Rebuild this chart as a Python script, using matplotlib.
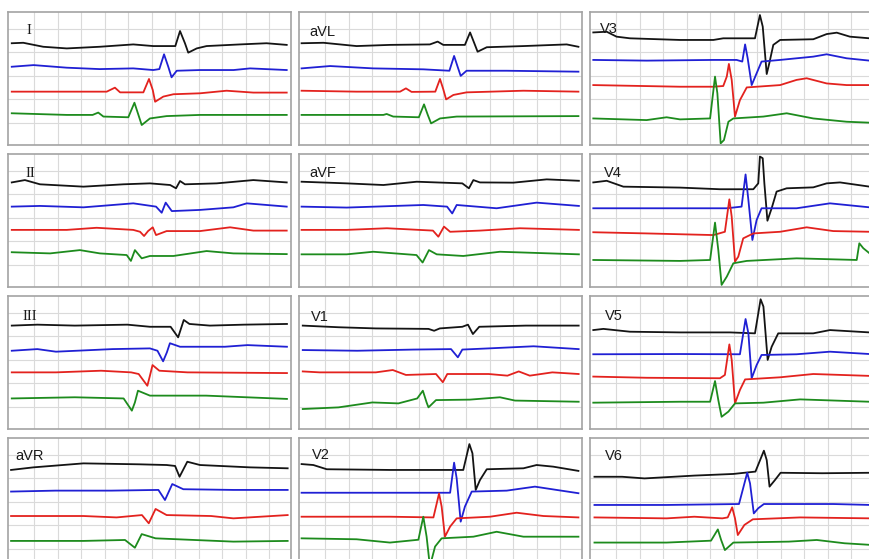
import matplotlib
matplotlib.use('Agg')
import matplotlib.pyplot as plt

W, H = 869, 559

# ---------------- data (time and amplitude in grid divisions) ----------------
lead_names = ['I', 'aVL', 'V3', 'II', 'aVF', 'V4', 'III', 'V1', 'V5', 'aVR', 'V2', 'V6']

lead_I = {
    'black': ([0.16, 0.65, 1.5, 2.5, 3.9, 5.33, 6.18, 7.12, 7.32, 7.53, 7.67, 8.03, 8.45, 9.87, 11.0, 11.86],
              [4.33, 4.35, 4.18, 4.11, 4.18, 4.28, 4.21, 4.21, 4.85, 4.33, 3.93, 4.11, 4.21, 4.28, 4.33, 4.26]),
    'blue': ([0.16, 1.09, 2.5, 3.9, 5.33, 6.18, 6.44, 6.64, 6.82, 6.96, 7.18, 8.17, 9.6, 10.3, 11.86],
             [3.33, 3.4, 3.29, 3.23, 3.26, 3.19, 3.23, 3.86, 3.33, 2.88, 3.16, 3.19, 3.19, 3.26, 3.19]),
    'red': ([0.16, 2.5, 4.2, 4.55, 4.77, 5.76, 6.0, 6.16, 6.26, 6.61, 7.04, 8.17, 9.3, 10.44, 11.86],
            [2.27, 2.27, 2.27, 2.44, 2.24, 2.24, 2.81, 2.34, 1.84, 2.06, 2.16, 2.2, 2.31, 2.23, 2.23]),
    'green': ([0.16, 2.5, 3.6, 3.84, 4.06, 5.12, 5.38, 5.55, 5.69, 6.04, 6.75, 8.17, 9.6, 11.86],
              [1.35, 1.28, 1.28, 1.38, 1.21, 1.18, 1.8, 1.28, 0.85, 1.13, 1.23, 1.28, 1.28, 1.28]),
}

lead_aVL = {
    'black': ([0.11, 1.04, 2.45, 3.87, 5.57, 5.9, 6.14, 7.06, 7.28, 7.46, 7.6, 7.99, 9.55, 11.39, 11.89],
              [4.33, 4.35, 4.21, 4.26, 4.28, 4.4, 4.26, 4.26, 4.79, 4.33, 3.97, 4.16, 4.21, 4.28, 4.18]),
    'blue': ([0.11, 1.32, 3.16, 5.29, 6.4, 6.6, 6.75, 6.88, 7.13, 8.84, 11.89],
             [3.26, 3.36, 3.26, 3.22, 3.16, 3.79, 3.33, 2.94, 3.16, 3.16, 3.12]),
    'red': ([0.11, 2.45, 4.3, 4.55, 4.79, 5.8, 6.0, 6.14, 6.26, 6.57, 7.13, 9.55, 11.89],
            [2.31, 2.27, 2.27, 2.41, 2.26, 2.27, 2.81, 2.37, 1.94, 2.13, 2.24, 2.31, 2.27]),
    'green': ([0.11, 3.59, 3.73, 4.01, 5.1, 5.32, 5.48, 5.62, 6.0, 6.71, 11.89],
              [1.28, 1.28, 1.32, 1.21, 1.18, 1.73, 1.28, 0.92, 1.13, 1.21, 1.23]),
}

lead_V3 = {
    'black': ([0.14, 0.71, 1.13, 1.7, 3.83, 5.25, 5.67, 7.02, 7.23, 7.35, 7.52, 7.63, 7.8, 8.09, 9.5, 10.07, 10.5, 11.06, 11.9],
              [4.79, 4.82, 4.61, 4.54, 4.47, 4.47, 4.54, 4.54, 5.53, 5.04, 3.02, 3.48, 4.26, 4.47, 4.5, 4.72, 4.78, 4.61, 4.54]),
    'blue': ([0.14, 2.41, 5.25, 6.24, 6.48, 6.6, 6.71, 6.88, 7.09, 7.3, 8.09, 9.5, 10.07, 10.92, 11.9],
             [3.62, 3.59, 3.62, 3.62, 3.55, 4.28, 3.69, 2.55, 3.05, 3.55, 3.62, 3.76, 3.86, 3.69, 3.59]),
    'red': ([0.14, 3.83, 5.25, 5.67, 5.82, 5.91, 6.03, 6.17, 6.38, 6.67, 8.09, 8.79, 9.22, 10.07, 10.92, 11.9],
            [2.55, 2.48, 2.48, 2.51, 2.91, 3.45, 2.77, 1.21, 1.91, 2.45, 2.55, 2.77, 2.84, 2.62, 2.55, 2.55]),
    'green': ([0.14, 2.41, 3.26, 3.83, 5.11, 5.32, 5.42, 5.56, 5.7, 5.89, 6.1, 7.38, 8.37, 9.5, 10.92, 11.9],
              [1.13, 1.06, 1.18, 1.09, 1.13, 2.91, 2.2, 0.07, 0.21, 0.99, 1.13, 1.21, 1.35, 1.13, 0.99, 0.95]),
}

lead_II = {
    'black': ([0.16, 0.72, 1.36, 3.21, 4.91, 6.04, 6.9, 7.15, 7.32, 7.53, 8.88, 10.44, 11.86],
              [4.45, 4.55, 4.37, 4.27, 4.37, 4.41, 4.34, 4.2, 4.51, 4.37, 4.41, 4.55, 4.45]),
    'blue': ([0.16, 1.36, 3.21, 5.33, 6.3, 6.54, 6.71, 6.97, 8.17, 9.59, 10.16, 11.86],
             [3.42, 3.45, 3.39, 3.56, 3.42, 3.16, 3.59, 3.23, 3.28, 3.39, 3.56, 3.42]),
    'red': ([0.16, 2.5, 3.77, 5.33, 5.62, 5.79, 5.96, 6.16, 6.3, 6.75, 8.17, 9.45, 10.44, 11.86],
            [2.43, 2.43, 2.52, 2.43, 2.35, 2.17, 2.38, 2.54, 2.21, 2.38, 2.38, 2.54, 2.4, 2.4]),
    'green': ([0.16, 1.79, 3.06, 3.91, 5.05, 5.23, 5.4, 5.69, 6.04, 7.04, 8.45, 9.59, 11.86],
              [1.48, 1.43, 1.57, 1.43, 1.36, 1.11, 1.57, 1.22, 1.32, 1.32, 1.53, 1.43, 1.4]),
}

lead_aVF = {
    'black': ([0.11, 2.03, 3.59, 5.01, 6.95, 7.23, 7.42, 7.7, 9.12, 10.54, 11.91],
              [4.48, 4.41, 4.34, 4.48, 4.41, 4.2, 4.55, 4.45, 4.44, 4.58, 4.52]),
    'blue': ([0.11, 2.03, 5.29, 6.3, 6.52, 6.71, 8.41, 10.11, 11.91],
             [3.42, 3.38, 3.49, 3.42, 3.13, 3.49, 3.35, 3.59, 3.45]),
    'red': ([0.11, 2.03, 3.74, 5.7, 5.93, 6.17, 6.43, 7.7, 9.4, 11.91],
            [2.43, 2.43, 2.5, 2.4, 2.14, 2.57, 2.35, 2.4, 2.5, 2.43]),
    'green': ([0.11, 2.03, 3.16, 5.0, 5.26, 5.53, 5.86, 6.99, 8.55, 11.91],
              [1.39, 1.39, 1.5, 1.36, 1.04, 1.57, 1.39, 1.32, 1.5, 1.39]),
}

lead_V4 = {
    'black': ([0.14, 0.71, 1.42, 3.83, 5.53, 6.95, 7.16, 7.23, 7.35, 7.42, 7.55, 7.73, 7.94, 8.37, 9.5, 10.07, 10.64, 11.9],
              [4.45, 4.52, 4.27, 4.23, 4.16, 4.16, 4.41, 5.55, 5.48, 4.41, 2.82, 3.35, 4.06, 4.2, 4.24, 4.41, 4.45, 4.27]),
    'blue': ([0.14, 2.41, 5.82, 6.45, 6.62, 6.74, 6.91, 7.09, 7.3, 8.79, 10.21, 11.9],
             [3.35, 3.35, 3.35, 3.42, 4.79, 3.7, 2.0, 2.85, 3.35, 3.35, 3.56, 3.39]),
    'red': ([0.14, 2.41, 5.25, 5.74, 5.93, 6.03, 6.17, 6.31, 6.52, 6.95, 8.09, 9.22, 10.35, 11.9],
            [2.33, 2.28, 2.21, 2.35, 3.73, 2.99, 1.08, 1.29, 2.07, 2.28, 2.35, 2.54, 2.38, 2.35]),
    'green': ([0.14, 3.83, 5.11, 5.32, 5.46, 5.6, 5.82, 6.1, 6.67, 8.79, 11.35, 11.46, 11.63, 11.9],
              [1.15, 1.11, 1.15, 2.74, 1.57, 0.09, 0.44, 1.01, 1.11, 1.22, 1.15, 1.86, 1.65, 1.43]),
}

lead_III = {
    'black': ([0.16, 1.25, 2.84, 5.08, 6.04, 6.92, 7.24, 7.48, 7.72, 8.59, 10.03, 11.87],
              [4.4, 4.44, 4.4, 4.44, 4.35, 4.35, 3.9, 4.64, 4.47, 4.4, 4.44, 4.47]),
    'blue': ([0.16, 1.25, 2.04, 4.44, 6.04, 6.36, 6.6, 6.76, 6.89, 7.32, 9.23, 10.19, 11.87],
             [3.33, 3.4, 3.29, 3.4, 3.43, 3.33, 2.88, 3.26, 3.65, 3.5, 3.5, 3.57, 3.5]),
    'red': ([0.16, 2.04, 3.96, 5.24, 5.56, 5.93, 6.04, 6.15, 6.44, 7.64, 11.87],
            [2.41, 2.41, 2.48, 2.41, 2.34, 1.84, 2.27, 2.72, 2.48, 2.41, 2.38]),
    'green': ([0.16, 2.84, 4.92, 5.27, 5.4, 5.53, 6.04, 8.43, 11.87],
              [1.3, 1.35, 1.3, 0.78, 1.13, 1.63, 1.42, 1.42, 1.28]),
}

lead_V1 = {
    'black': ([0.16, 1.68, 3.27, 5.51, 5.75, 5.99, 6.95, 7.19, 7.4, 7.67, 9.66, 11.9],
              [4.4, 4.33, 4.28, 4.26, 4.18, 4.28, 4.35, 4.44, 4.04, 4.35, 4.4, 4.4]),
    'blue': ([0.16, 2.48, 4.87, 6.47, 6.76, 6.95, 8.07, 9.98, 11.9],
             [3.36, 3.33, 3.38, 3.4, 3.05, 3.38, 3.43, 3.52, 3.4]),
    'red': ([0.16, 0.88, 3.27, 3.99, 4.55, 5.83, 6.12, 6.31, 8.07, 8.87, 9.35, 9.82, 10.78, 11.9],
            [2.45, 2.41, 2.41, 2.51, 2.3, 2.34, 1.99, 2.34, 2.34, 2.27, 2.45, 2.27, 2.41, 2.34]),
    'green': ([0.16, 1.68, 3.12, 4.23, 5.03, 5.27, 5.43, 5.51, 5.83, 7.27, 8.55, 9.19, 11.9],
              [0.85, 0.92, 1.13, 1.09, 1.3, 1.63, 1.13, 0.92, 1.23, 1.25, 1.35, 1.21, 1.16]),
}

lead_V5 = {
    'black': ([0.14, 0.57, 1.7, 3.83, 5.96, 7.02, 7.26, 7.38, 7.56, 7.73, 8.01, 9.5, 10.21, 11.9],
              [4.21, 4.26, 4.14, 4.11, 4.11, 4.07, 5.52, 5.21, 2.94, 3.5, 4.07, 4.07, 4.21, 4.11]),
    'blue': ([0.14, 3.83, 6.38, 6.62, 6.74, 6.88, 7.09, 7.3, 8.79, 10.21, 11.9],
             [3.18, 3.19, 3.18, 4.68, 4.07, 2.16, 2.72, 3.15, 3.18, 3.29, 3.19]),
    'red': ([0.14, 2.41, 5.53, 5.74, 5.93, 6.03, 6.17, 6.38, 6.6, 8.09, 9.5, 11.9],
            [2.23, 2.18, 2.16, 2.3, 3.6, 2.94, 1.09, 1.66, 2.11, 2.2, 2.34, 2.26]),
    'green': ([0.14, 3.83, 5.11, 5.32, 5.46, 5.6, 5.89, 6.17, 7.38, 8.94, 11.9],
              [1.12, 1.16, 1.16, 2.04, 1.23, 0.52, 0.74, 1.09, 1.12, 1.26, 1.16]),
}

lead_aVR = {
    'black': ([0.13, 1.08, 3.21, 5.57, 6.75, 7.11, 7.3, 7.63, 8.17, 10.3, 11.9],
              [4.3, 4.41, 4.58, 4.54, 4.51, 4.47, 4.01, 4.65, 4.51, 4.41, 4.37]),
    'blue': ([0.13, 2.02, 4.39, 6.4, 6.68, 6.99, 7.46, 9.59, 11.9],
             [3.38, 3.42, 3.42, 3.45, 3.02, 3.7, 3.48, 3.45, 3.45]),
    'red': ([0.13, 3.21, 4.62, 5.7, 5.99, 6.28, 6.75, 8.64, 9.59, 11.9],
            [2.34, 2.34, 2.28, 2.38, 2.03, 2.64, 2.38, 2.34, 2.24, 2.38]),
    'green': ([0.13, 3.21, 4.98, 5.4, 5.69, 6.28, 7.93, 9.59, 11.9],
              [1.28, 1.28, 1.32, 0.99, 1.57, 1.39, 1.32, 1.25, 1.28]),
}

lead_V2 = {
    'black': ([0.11, 0.61, 1.18, 3.87, 6.99, 7.25, 7.38, 7.52, 7.7, 7.99, 9.55, 10.11, 10.82, 11.89],
              [4.55, 4.51, 4.33, 4.3, 4.3, 5.4, 5.01, 3.45, 3.87, 4.33, 4.37, 4.51, 4.44, 4.26]),
    'blue': ([0.11, 3.87, 6.43, 6.6, 6.71, 6.88, 7.06, 7.35, 8.84, 10.04, 10.96, 11.89],
             [3.33, 3.33, 3.33, 4.61, 3.94, 2.1, 2.74, 3.38, 3.42, 3.59, 3.45, 3.31]),
    'red': ([0.11, 3.87, 5.72, 5.96, 6.07, 6.21, 6.43, 6.71, 8.13, 9.26, 10.4, 11.89],
            [2.31, 2.31, 2.28, 3.3, 2.74, 1.46, 1.89, 2.24, 2.31, 2.48, 2.34, 2.28]),
    'green': ([0.11, 2.45, 3.87, 5.08, 5.29, 5.43, 5.57, 5.79, 6.07, 7.42, 8.41, 9.55, 11.89],
              [1.39, 1.35, 1.21, 1.33, 2.31, 1.46, 0.2, 1.04, 1.39, 1.46, 1.67, 1.46, 1.46]),
}

lead_V6 = {
    'black': ([0.19, 1.37, 2.32, 4.44, 6.1, 7.04, 7.4, 7.52, 7.64, 7.87, 8.11, 9.88, 11.96],
              [4.01, 4.01, 3.94, 4.06, 4.13, 4.23, 5.12, 4.72, 3.59, 3.87, 4.18, 4.16, 4.18]),
    'blue': ([0.19, 3.26, 6.34, 6.69, 6.81, 6.97, 7.16, 7.4, 10.35, 11.96],
             [2.81, 2.81, 2.85, 4.18, 3.73, 2.45, 2.67, 2.85, 2.85, 2.81]),
    'red': ([0.19, 3.26, 4.44, 5.63, 5.86, 6.05, 6.17, 6.29, 6.57, 6.93, 8.94, 11.96],
            [2.28, 2.24, 2.31, 2.24, 2.28, 2.71, 2.24, 1.53, 1.96, 2.2, 2.28, 2.24]),
    'green': ([0.19, 3.26, 5.15, 5.44, 5.58, 5.74, 6.1, 8.46, 9.65, 10.83, 11.96],
              [1.21, 1.21, 1.29, 1.77, 1.32, 0.89, 1.21, 1.25, 1.32, 1.18, 1.11]),
}

lead_data = [lead_I, lead_aVL, lead_V3, lead_II, lead_aVF, lead_V4,
             lead_III, lead_V1, lead_V5, lead_aVR, lead_V2, lead_V6]

# ---------------- style / layout ----------------
trace_colors = {'black': '#141414', 'blue': '#2020d4', 'red': '#e3221e', 'green': '#1d8b1d'}
col_left_px = [8, 299, 590]
row_top_px = [12, 154, 296, 438]
panel_w_px, panel_h_px = 283, 133
unit_px = 23.5
label_pos = {
    'I': (0.8, 4.89), 'aVL': (0.43, 4.8), 'V3': (0.43, 4.94),
    'II': (0.75, 4.85), 'aVF': (0.43, 4.85), 'V4': (0.6, 4.85),
    'III': (0.6, 4.8), 'V1': (0.5, 4.75), 'V5': (0.64, 4.8),
    'aVR': (0.3, 4.89), 'V2': (0.55, 4.94), 'V6': (0.64, 4.89),
}
serif_labels = {'I', 'II', 'III'}

fig = plt.figure(figsize=(W / 100, H / 100), dpi=100)
fig.patch.set_facecolor('white')

xmax = panel_w_px / unit_px
ymax = panel_h_px / unit_px
vgrid = [1.12 + k for k in range(11)]
hgrid = [0.95 + k for k in range(5)]

for i, (name, data) in enumerate(zip(lead_names, lead_data)):
    r, c = divmod(i, 3)
    left = col_left_px[c] / W
    bottom = 1 - (row_top_px[r] + panel_h_px) / H
    ax = fig.add_axes([left, bottom, panel_w_px / W, panel_h_px / H])
    ax.set_xlim(0, xmax)
    ax.set_ylim(0, ymax)
    ax.set_xticks(vgrid)
    ax.set_yticks(hgrid)
    ax.grid(True, color='#dadada', linewidth=0.8)
    ax.set_axisbelow(True)
    ax.tick_params(length=0, labelbottom=False, labelleft=False)
    for sp in ax.spines.values():
        sp.set_color('#a3a3a3')
        sp.set_linewidth(1.2)
    for key in ['black', 'blue', 'red', 'green']:
        t, v = data[key]
        ax.plot(t, v, color=trace_colors[key], linewidth=1.3, solid_joinstyle='round')
    lx, ly = label_pos[name]
    fam = 'Liberation Serif' if name in serif_labels else 'Liberation Sans'
    ax.text(lx, ly, name, fontsize=10.5, family=fam, color='#1a1a1a',
            ha='left', va='center')

fig.savefig('out.png', dpi=100, facecolor='white')
